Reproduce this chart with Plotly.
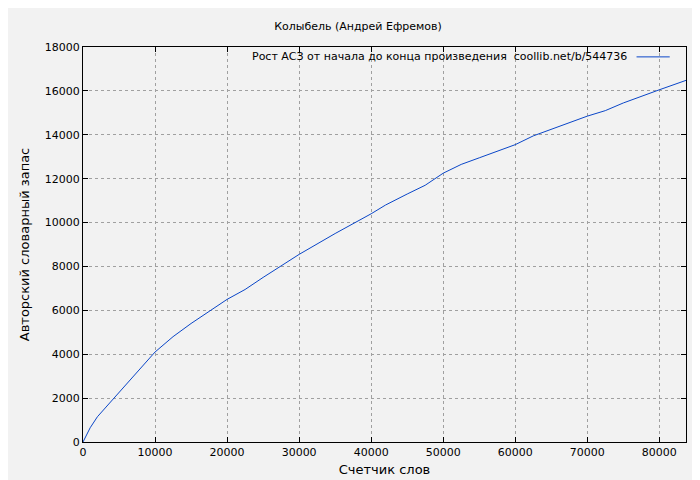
import plotly.graph_objects as go

words = [0, 500, 1000, 2000, 3500, 5000, 7500, 10000, 12500, 15000, 17500, 20000, 22500, 25000, 30000, 35000, 40000, 42000, 45000, 47500, 50000, 52500, 55000, 60000, 62500, 65000, 70000, 72500, 75000, 80000, 83700]
vocab = [0, 350, 650, 1150, 1700, 2300, 3200, 4100, 4800, 5400, 5950, 6500, 6950, 7500, 8550, 9500, 10400, 10800, 11300, 11700, 12250, 12650, 12950, 13550, 13950, 14250, 14850, 15100, 15450, 16050, 16480]
legend_text = "Рост АСЗ от начала до конца произведения  coollib.net/b/544736"

fig = go.Figure(go.Scatter(x=words, y=vocab, mode="lines",
    line=dict(color="#0a46c8", width=1), name=legend_text, showlegend=False))

ax = dict(showline=True, mirror="ticks", linecolor="black", linewidth=1,
          ticks="inside", ticklen=5, tickcolor="black", automargin=False,
          showgrid=True, gridcolor="#a0a0a0", griddash="dot", gridwidth=1,
          zeroline=False, tickformat="d", tickfont=dict(size=11, color="black"))
fig.update_layout(
    width=700, height=480, paper_bgcolor="#f2f2f2", plot_bgcolor="#f2f2f2",
    font=dict(family="DejaVu Sans", size=11, color="black"),
    margin=dict(l=75, r=22, t=39, b=46),
    title=dict(text="Колыбель (Андрей Ефремов)", x=0.5, y=0.963, xanchor="center", yanchor="middle", font=dict(size=11)),
    xaxis=dict(ax, range=[0, 83700], dtick=10000, title=dict(text="Счетчик слов", standoff=6)),
    yaxis=dict(ax, range=[0, 18000], dtick=2000, title=dict(text="Авторский словарный запас", standoff=12)),
)
fig.add_annotation(xref="paper", yref="paper", x=0.905, y=0.975, xanchor="right", yanchor="middle",
                   text=legend_text, showarrow=False, font=dict(size=11))
fig.add_shape(type="line", xref="paper", yref="paper", x0=0.918, x1=0.973, y0=0.975, y1=0.975,
              line=dict(color="#0a46c8", width=1))
fig.write_html("out.html")
